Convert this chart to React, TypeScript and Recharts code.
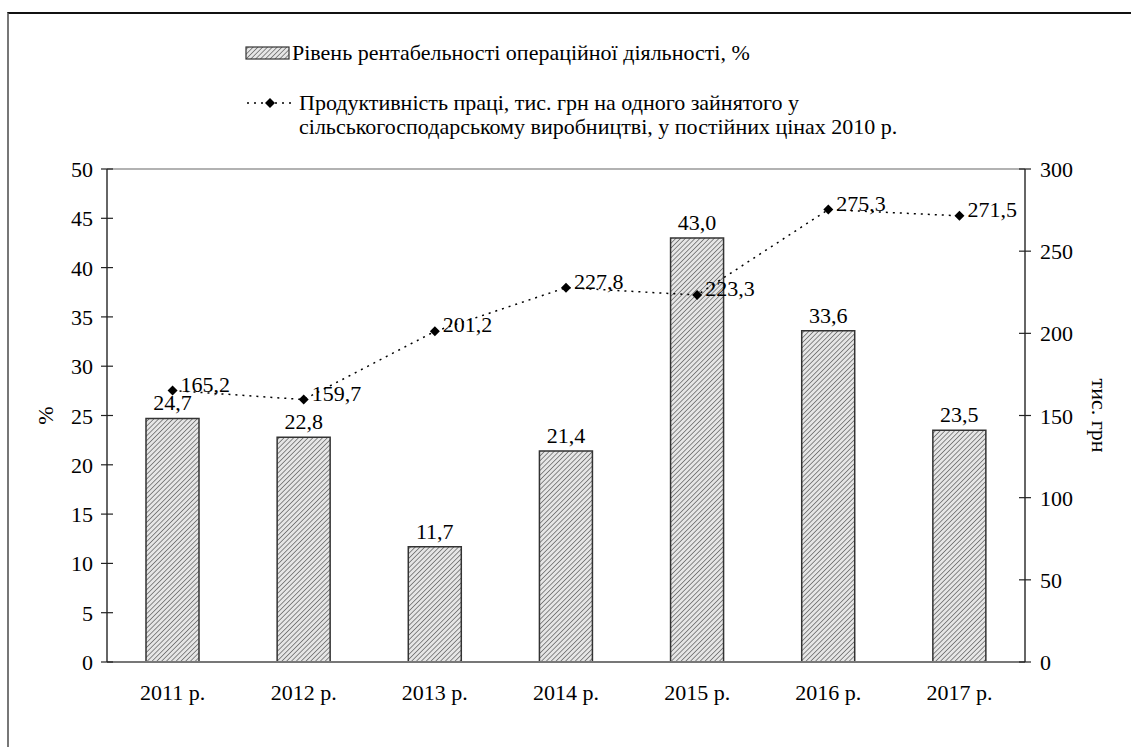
import { ComposedChart, Bar, Line, XAxis, YAxis, Legend, LabelList, ReferenceLine } from 'recharts'

const years = ['2011 р.', '2012 р.', '2013 р.', '2014 р.', '2015 р.', '2016 р.', '2017 р.']
const profitability = [24.7, 22.8, 11.7, 21.4, 43.0, 33.6, 23.5]
const productivity = [165.2, 159.7, 201.2, 227.8, 223.3, 275.3, 271.5]
const leftTicks = [0, 5, 10, 15, 20, 25, 30, 35, 40, 45, 50]
const rightTicks = [0, 50, 100, 150, 200, 250, 300]
const bandEdges = [0, 1, 2, 3, 4, 5, 6, 7]

const barName = 'Рівень рентабельності операційної діяльності, %'
const lineName = [
  'Продуктивність праці, тис. грн на одного зайнятого у',
  'сільськогосподарському виробництві, у постійних цінах 2010 р.',
]

const data = years.map((y, i) => ({ year: y, profit: profitability[i], prod: productivity[i] }))

const FONT = '"Liberation Serif", "Times New Roman", serif'
const FS = 22
const fmt = (v: number) => v.toFixed(1).replace('.', ',')

function LeftTick(props: any) {
  const { x, y, payload } = props
  return (
    <g>
      <line x1={x - 6} x2={x + 6} y1={y} y2={y} stroke="#222" strokeWidth={1.2} />
      <text x={x - 14} y={y + 8} textAnchor="end" fontSize={FS} style={{ fontFamily: FONT }} fill="#000">
        {payload.value}
      </text>
    </g>
  )
}

function RightTick(props: any) {
  const { x, y, payload } = props
  return (
    <g>
      <line x1={x - 6} x2={x + 6} y1={y} y2={y} stroke="#222" strokeWidth={1.2} />
      <text x={x + 15} y={y + 8} textAnchor="start" fontSize={FS} style={{ fontFamily: FONT }} fill="#000">
        {payload.value}
      </text>
    </g>
  )
}

function YearTick(props: any) {
  const { x, y, payload } = props
  return (
    <text x={x} y={y + 38} textAnchor="middle" fontSize={FS} style={{ fontFamily: FONT }} fill="#000">
      {payload.value}
    </text>
  )
}

function EdgeTick(props: any) {
  const { x, y } = props
  return <line x1={x} x2={x} y1={y - 7} y2={y + 7} stroke="#222" strokeWidth={1.2} />
}

function Diamond(props: any) {
  const { cx, cy, index } = props
  if (cx == null || cy == null) return null
  return <path key={index} d={`M${cx},${cy - 5} L${cx + 5},${cy} L${cx},${cy + 5} L${cx - 5},${cy} Z`} fill="#000" />
}

function LineLabel(props: any) {
  const { x, y, value } = props
  return (
    <text x={x + 8} y={y + 1} fontSize={FS} style={{ fontFamily: FONT }} fill="#000">
      {fmt(value)}
    </text>
  )
}

function Hatch({ id }: { id: string }) {
  return (
    <pattern id={id} patternUnits="userSpaceOnUse" width={3.4} height={3.4} patternTransform="rotate(45)">
      <rect width={3.4} height={3.4} fill="#e6e6e6" />
      <line x1={0} y1={0} x2={0} y2={3.4} stroke="#6e6e6e" strokeWidth={1.6} />
    </pattern>
  )
}

function LegendBox() {
  return (
    <div style={{ fontFamily: FONT, fontSize: FS, color: '#000', lineHeight: '24px' }}>
      <div style={{ display: 'flex', alignItems: 'center' }}>
        <svg width={46} height={16} style={{ marginRight: 1 }}>
          <defs>
            <Hatch id="hatchLegend" />
          </defs>
          <rect x={1} y={2} width={43} height={12} fill="url(#hatchLegend)" stroke="#333" strokeWidth={1.2} />
        </svg>
        <span>{barName}</span>
      </div>
      <div style={{ display: 'flex', alignItems: 'flex-start', marginTop: 26 }}>
        <svg width={54} height={24} style={{ flex: 'none' }}>
          <line x1={2} x2={48} y1={12} y2={12} stroke="#000" strokeWidth={1.5} strokeDasharray="2 5" />
          <path d="M25,7 L30,12 L25,17 L20,12 Z" fill="#000" />
        </svg>
        <div>
          <div>{lineName[0]}</div>
          <div>{lineName[1]}</div>
        </div>
      </div>
    </div>
  )
}

export default function App() {
  return (
    <div style={{ position: 'absolute', left: 0, top: 0, width: 1131, height: 747, background: '#fff' }}>
      <div
        style={{
          position: 'absolute',
          left: 7,
          top: 12,
          right: 0,
          bottom: 0,
          borderTop: '2px solid #111',
          borderLeft: '2px solid #777',
        }}
      />
      <div style={{ position: 'absolute', left: 0, top: 0 }}>
        <ComposedChart width={1131} height={747} data={data} margin={{ top: 169, right: 10, bottom: 45, left: 20 }}>
          <defs>
            <Hatch id="hatch" />
          </defs>
          <XAxis
            xAxisId="edges"
            type="number"
            domain={[0, 7]}
            ticks={bandEdges}
            height={0}
            axisLine={false}
            tickLine={false}
            tickSize={0}
            tickMargin={0}
            tick={<EdgeTick />}
            allowDataOverflow
          />
          <XAxis
            dataKey="year"
            height={40}
            axisLine={{ stroke: '#777', strokeWidth: 2 }}
            tickLine={false}
            tickSize={0}
            tickMargin={0}
            tick={<YearTick />}
            interval={0}
          />
          <YAxis
            yAxisId="left"
            domain={[0, 50]}
            ticks={leftTicks}
            width={87}
            axisLine={{ stroke: '#333', strokeWidth: 1.5 }}
            tickLine={false}
            tickSize={0}
            tickMargin={0}
            tick={<LeftTick />}
            interval={0}
            label={{
              value: '%',
              angle: -90,
              position: 'insideLeft',
              offset: 25,
              style: { textAnchor: 'middle', fontFamily: FONT, fontSize: FS, fill: '#000' },
            }}
          />
          <YAxis
            yAxisId="right"
            orientation="right"
            domain={[0, 300]}
            ticks={rightTicks}
            width={96}
            axisLine={{ stroke: '#333', strokeWidth: 1.5 }}
            tickLine={false}
            tickSize={0}
            tickMargin={0}
            tick={<RightTick />}
            interval={0}
            label={{
              value: 'тис. грн',
              angle: 90,
              position: 'insideRight',
              offset: 21,
              style: { textAnchor: 'middle', fontFamily: FONT, fontSize: FS, fill: '#000' },
            }}
          />
          <ReferenceLine yAxisId="left" y={50} stroke="#999" strokeWidth={1.5} />
          <Legend
            layout="vertical"
            align="center"
            verticalAlign="middle"
            content={() => <LegendBox />}
            wrapperStyle={{ top: 41, left: 245, width: 760 }}
          />
          <Bar
            yAxisId="left"
            dataKey="profit"
            barSize={53}
            fill="url(#hatch)"
            stroke="#333"
            strokeWidth={1.5}
            isAnimationActive={false}
          >
            <LabelList
              dataKey="profit"
              position="top"
              offset={8}
              formatter={(v: any) => fmt(Number(v))}
              style={{ fontFamily: FONT, fontSize: FS, fill: '#000' }}
            />
          </Bar>
          <Line
            yAxisId="right"
            dataKey="prod"
            stroke="#000"
            strokeWidth={1.5}
            strokeDasharray="2 5"
            dot={<Diamond />}
            activeDot={false}
            isAnimationActive={false}
          >
            <LabelList dataKey="prod" content={<LineLabel />} />
          </Line>
        </ComposedChart>
      </div>
    </div>
  )
}
